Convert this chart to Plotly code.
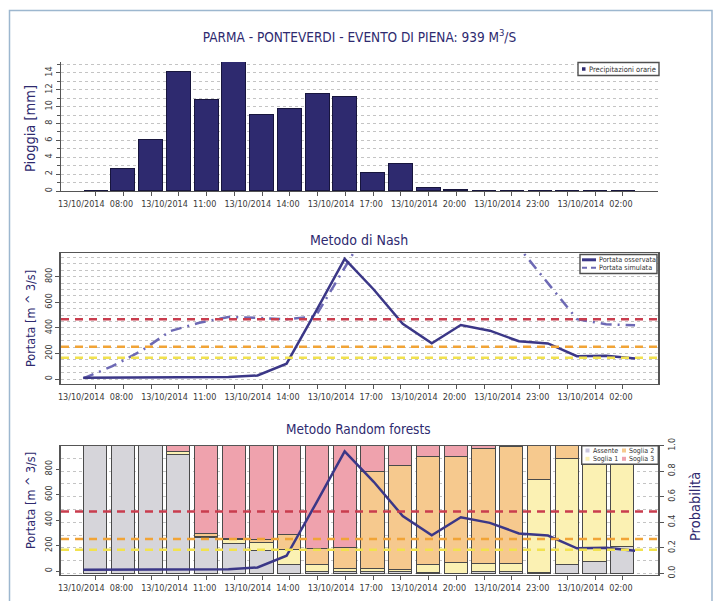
import plotly.graph_objects as go
import pandas as pd

W, H = 715, 601

# ---- data -------------------------------------------------------------
hours = pd.date_range("2014-10-13 08:00", periods=20, freq="h")
tick_labels = ["13/10/2014\u00a0 08:00", "13/10/2014\u00a0 11:00", "13/10/2014\u00a0 14:00",
               "13/10/2014\u00a0 17:00", "13/10/2014\u00a0 20:00", "13/10/2014\u00a0 23:00",
               "13/10/2014\u00a0 02:00"]

rain_mm = [0, 2.6, 6.1, 14.1, 10.8, 15.3, 9.0, 9.7, 11.5, 11.1,
           2.1, 3.2, 0.3, 0.1, 0, 0, 0, 0, 0, 0]

step = list(range(20))
q_obs = [10, 10, 10, 10, 12, 15, 28, 120, 525, 939,
         700, 432, 280, 422, 378, 295, 278, 178, 182, 160]
q_nash = [5, 100, 220, 375, 440, 485, 478, 468, 490, 890,
          1250, 1420, 1480, 1430, 1260, 1030, 750, 468, 428, 420]

p_assente = [1.0, 1.0, 1.0, 0.93, 0.28, 0.235, 0.18, 0.065, 0.015, 0.01,
             0.01, 0.01, 0.005, 0.0, 0.013, 0.013, 0.005, 0.07, 0.09, 0.21]
p_soglia1 = [0.0, 0.0, 0.0, 0.02, 0.005, 0.025, 0.06, 0.12, 0.05, 0.03,
             0.03, 0.02, 0.065, 0.085, 0.06, 0.06, 0.725, 0.825, 0.91, 0.79]
p_soglia2 = [0.0, 0.0, 0.0, 0.005, 0.025, 0.01, 0.02, 0.115, 0.125, 0.16,
             0.76, 0.81, 0.84, 0.83, 0.907, 0.917, 0.27, 0.105, 0.0, 0.0]
p_soglia3 = [0.0, 0.0, 0.0, 0.045, 0.69, 0.73, 0.74, 0.70, 0.81, 0.80,
             0.20, 0.16, 0.09, 0.085, 0.02, 0.01, 0.0, 0.0, 0.0, 0.0]

soglie = [167, 252, 467]
soglie_col = ["#f2e24e", "#f1a436", "#c93d4e"]

# ---- styling ----------------------------------------------------------
FONT = "DejaVu Sans Condensed, Liberation Sans Narrow, sans-serif"
NAVY = "#2e2a6f"
OBS_COL = "#3b3787"
SIM_COL = "#6d69b4"
GRID = "#c4c4c4"
TICK_COL = "#3a3a3a"
CLASS_COL = {"Assente": "#d6d5da", "Soglia 1": "#fbf1b3",
             "Soglia 2": "#f6c98e", "Soglia 3": "#efa2ad"}

def px(x):
    return x / W

def py(y):
    return 1 - y / H

X_DOM = [px(61), px(658)]
x_range = ["2014-10-13 06:45:24", "2014-10-14 04:16:13"]
step_range = [-0.768, 19.79]

fig = go.Figure()

# rainfall bars
fig.add_trace(go.Bar(x=hours, y=rain_mm, width=3114000, marker_color=NAVY,
                     marker_line=dict(color="#17153d", width=1), xaxis="x", yaxis="y",
                     showlegend=False))

# empty trace so the time axis of the Nash panel owns a subplot (frame + thresholds)
fig.add_trace(go.Scatter(x=[], y=[], xaxis="x2", yaxis="y2", showlegend=False,
                         hoverinfo="skip"))

# Nash method: observed vs simulated discharge
fig.add_trace(go.Scatter(x=step, y=q_nash, mode="lines", xaxis="x3", yaxis="y2",
                         line=dict(color=SIM_COL, width=2.5, dash="11px,6px,2px,6px"),
                         showlegend=False))
fig.add_trace(go.Scatter(x=step, y=q_obs, mode="lines", xaxis="x3", yaxis="y2",
                         line=dict(color=OBS_COL, width=2.5), showlegend=False))

# Random forests: class probabilities
for name, vals in [("Assente", p_assente), ("Soglia 1", p_soglia1),
                   ("Soglia 2", p_soglia2), ("Soglia 3", p_soglia3)]:
    fig.add_trace(go.Bar(x=hours, y=vals, width=3024000, name=name,
                         marker_color=CLASS_COL[name],
                         marker_line=dict(color="#4a4a4a", width=1.2),
                         xaxis="x4", yaxis="y4", showlegend=False))
fig.add_trace(go.Scatter(x=step, y=q_obs, mode="lines", xaxis="x5", yaxis="y5",
                         line=dict(color=OBS_COL, width=2.5), showlegend=False))

# ---- axes -------------------------------------------------------------
tick_font = dict(family=FONT, size=9, color=TICK_COL)
date_tickvals = [h for i, h in enumerate(hours) if i % 3 == 0]

def date_axis(anchor, box):
    return dict(type="date", range=x_range, domain=X_DOM, anchor=anchor,
                tickmode="array", tickvals=date_tickvals, ticktext=tick_labels,
                tickangle=0, tickfont=tick_font, ticks="outside", ticklen=4,
                tickcolor="#555",
                minor=dict(tickmode="array", tickvals=list(hours), ticks="outside",
                           ticklen=4, tickcolor="#555"),
                showline=True, linecolor="#555", linewidth=1.3, mirror=box,
                showgrid=False, zeroline=False, automargin=False, fixedrange=True)

layout = dict(
    width=W, height=H, margin=dict(l=0, r=0, t=0, b=0), autosize=False,
    paper_bgcolor="white", plot_bgcolor="white", barmode="stack", bargap=0,
    font=dict(family=FONT, color=NAVY),
    title=dict(text="PARMA - PONTEVERDI - EVENTO DI PIENA: 939 M<sup>3</sup>/S",
               x=px(359.5), y=py(37), xanchor="center", yanchor="middle",
               font=dict(family=FONT, size=13.5, color=NAVY)),
    xaxis=date_axis("y", False),
    yaxis=dict(domain=[py(191), py(62)], range=[0, 15.3], anchor="x",
               tickvals=[0, 2, 4, 6, 8, 10, 12, 14], tickangle=-90, tickfont=tick_font,
               ticks="outside", ticklen=4, tickcolor="#555",
               minor=dict(dtick=1, ticks="outside", ticklen=3, tickcolor="#555",
                          showgrid=True, gridcolor=GRID, griddash="dot", gridwidth=1),
               showgrid=True, gridcolor=GRID, griddash="dot", gridwidth=1,
               showline=True, linecolor="#555", linewidth=1.3,
               zeroline=False, automargin=False, fixedrange=True),
    xaxis2=date_axis("y2", True),
    xaxis3=dict(range=step_range, domain=X_DOM, overlaying="x2", anchor="y2",
                visible=False, fixedrange=True),
    yaxis2=dict(domain=[py(384), py(253.3)], range=[-39, 983], anchor="x2",
                tickvals=[0, 200, 400, 600, 800], tickangle=-90, tickfont=tick_font,
                ticks="outside", ticklen=4, tickcolor="#555",
                minor=dict(dtick=50, showgrid=True, gridcolor=GRID, griddash="dot"),
                showgrid=True, gridcolor=GRID, griddash="dot",
                showline=True, linecolor="#555", linewidth=1.5, mirror=True,
                zeroline=False, automargin=False, fixedrange=True),
    xaxis4=date_axis("y4", True),
    xaxis5=dict(range=step_range, domain=X_DOM, overlaying="x4", anchor="y5",
                visible=False, fixedrange=True),
    yaxis4=dict(domain=[py(575), py(445.7)], range=[-0.013, 1.0], anchor="x4",
                side="right", tickvals=[0, 0.2, 0.4, 0.6, 0.8, 1.0], tickformat=".1f",
                tickangle=-90, tickfont=tick_font, ticks="outside", ticklen=4,
                tickcolor="#555",
                minor=dict(dtick=0.1, showgrid=True, gridcolor=GRID, griddash="dot"),
                showgrid=True, gridcolor=GRID, griddash="dot",
                showline=True, linecolor="#555", linewidth=1.5, mirror=True,
                zeroline=False, automargin=False, fixedrange=True),
    yaxis5=dict(range=[-31, 983], overlaying="y4", anchor="x4", side="left",
                tickvals=[0, 200, 400, 600, 800], tickangle=-90, tickfont=tick_font,
                ticks="outside", ticklen=4, tickcolor="#555", showgrid=False,
                showline=False, zeroline=False, automargin=False, fixedrange=True),
)
fig.update_layout(**layout)

# ---- warning thresholds ----------------------------------------------
shapes = []
for yref, xref in [("y2", "x2 domain"), ("y5", "x4 domain")]:
    for val, col in zip(soglie, soglie_col):
        shapes.append(dict(type="line", xref=xref, x0=0, x1=1, yref=yref, y0=val, y1=val,
                           line=dict(color=col, width=2.5, dash="8px,6px"), layer="above"))

# outer frame
shapes.append(dict(type="rect", xref="paper", yref="paper", x0=px(9.5), x1=px(712),
                   y0=py(620), y1=py(10.5), line=dict(color="#9db7cf", width=1.5),
                   layer="above"))

# ---- legends ----------------------------------------------------------
LEG_BOX = dict(color="#4f4f4f", width=1.4)
annotations = []

def leg_text(x, y, text, size=8):
    annotations.append(dict(xref="paper", yref="paper", x=px(x), y=py(y), text=text,
                            showarrow=False, xanchor="left", yanchor="middle",
                            font=dict(family=FONT, size=size, color="#333")))

def leg_square(x, y, col, s=4):
    shapes.append(dict(type="rect", xref="paper", yref="paper", x0=px(x), x1=px(x + s),
                       y0=py(y + s / 2), y1=py(y - s / 2), fillcolor=col,
                       line=dict(width=0), layer="above"))

# rainfall legend
shapes.append(dict(type="rect", xref="paper", yref="paper", x0=px(578), x1=px(659),
                   y0=py(75.5), y1=py(62.5), line=LEG_BOX, fillcolor="white", layer="above"))
leg_square(582, 69, NAVY, 3.5)
leg_text(587, 69, "Precipitazioni orarie", 7.5)

# Nash legend
shapes.append(dict(type="rect", xref="paper", yref="paper", x0=px(580), x1=px(657),
                   y0=py(273.5), y1=py(254.5), line=LEG_BOX, fillcolor="white", layer="above"))
shapes.append(dict(type="line", xref="paper", yref="paper", x0=px(582), x1=px(596),
                   y0=py(259.8), y1=py(259.8), line=dict(color=OBS_COL, width=3),
                   layer="above"))
shapes.append(dict(type="line", xref="paper", yref="paper", x0=px(582), x1=px(596),
                   y0=py(267.8), y1=py(267.8),
                   line=dict(color=SIM_COL, width=2, dash="5px,4px"), layer="above"))
leg_text(597, 259.8, "Portata osservata", 7.2)
leg_text(597, 267.8, "Portata simulata", 7.2)

# Random forests legend
shapes.append(dict(type="rect", xref="paper", yref="paper", x0=px(581.7), x1=px(658.3),
                   y0=py(464.3), y1=py(445.7), line=LEG_BOX, fillcolor="white", layer="above"))
for x, y, name in [(585.5, 450.5, "Assente"), (585.5, 458.8, "Soglia 1"),
                   (622, 450.5, "Soglia 2"), (622, 458.8, "Soglia 3")]:
    leg_square(x, y, CLASS_COL[name] if name != "Assente" else "#c9c6dc", 4)
    leg_text(x + 5, y, name, 7)

# ---- titles -----------------------------------------------------------
def label(x, y, text, size, angle=0):
    annotations.append(dict(xref="paper", yref="paper", x=px(x), y=py(y), text=text,
                            showarrow=False, xanchor="center", yanchor="middle",
                            textangle=angle, font=dict(family=FONT, size=size, color=NAVY)))

label(358.5, 240, "Metodo di Nash", 14)
label(358, 429, "Metodo Random forests", 13.5)
label(30, 129, "Pioggia [mm]", 14.5, -90)
label(30, 319, "Portata [m ^ 3/s]", 12.5, -90)
label(30, 501, "Portata [m ^ 3/s]", 12.5, -90)
label(695, 507, "Probabilità", 14.5, -90)

fig.update_layout(shapes=shapes, annotations=annotations)

fig.write_html("out.html")
